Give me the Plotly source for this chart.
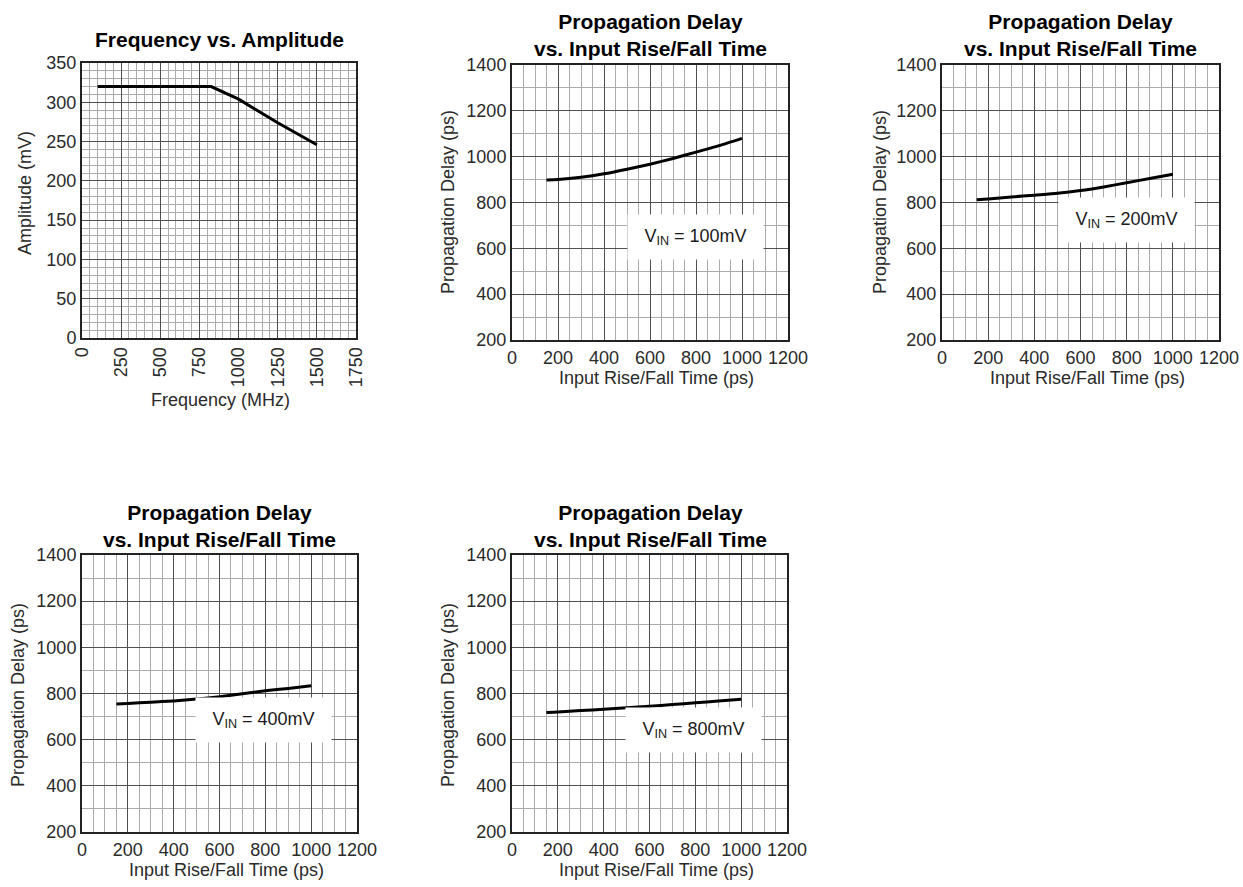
import plotly.graph_objects as go

# ---------------- data ----------------
freq_mhz = [100, 825, 1000, 1250, 1500]
amp_mv = [320, 320, 304, 274, 246]

rise_ps = [150, 200, 300, 400, 500, 600, 700, 800, 900, 1000]
delay_100mv = [898, 900, 910, 925, 945, 967, 992, 1020, 1048, 1080]
delay_200mv = [812, 815, 824, 832, 840, 852, 868, 886, 905, 923]
delay_400mv = [755, 757, 762, 768, 776, 786, 799, 812, 822, 834]
delay_800mv = [718, 720, 726, 732, 738, 745, 752, 760, 767, 775]

vin_labels = ["V<sub>IN</sub> = 100mV", "V<sub>IN</sub> = 200mV",
              "V<sub>IN</sub> = 400mV", "V<sub>IN</sub> = 800mV"]
label_pos = [(796, 650), (801, 724), (790, 685), (790, 642)]

title_freq = "<b>Frequency vs. Amplitude</b>"
title_pd = "<b>Propagation Delay<br>vs. Input Rise/Fall Time</b>"

# ---------------- layout geometry ----------------
W, H = 1243, 887
FONT = "Liberation Sans, Arial, sans-serif"

def px_x(a, b):
    return [a / W, b / W]

def px_y(top, bottom):
    return [1 - bottom / H, 1 - top / H]

panels = [
    dict(x=px_x(82, 356), y=px_y(63, 338)),
    dict(x=px_x(512, 788), y=px_y(65, 340)),
    dict(x=px_x(942, 1219), y=px_y(65, 340)),
    dict(x=px_x(82, 357), y=px_y(555, 832)),
    dict(x=px_x(512, 787), y=px_y(555, 832)),
]

MAJOR = "#505050"
MINOR = "#ababab"
TICKFONT = dict(family=FONT, size=18, color="#2a2a2a")

fig = go.Figure()

series = [(freq_mhz, amp_mv), (rise_ps, delay_100mv), (rise_ps, delay_200mv),
          (rise_ps, delay_400mv), (rise_ps, delay_800mv)]
for i, (xs, ys) in enumerate(series):
    sfx = "" if i == 0 else str(i + 1)
    fig.add_trace(go.Scatter(x=xs, y=ys, mode="lines",
                             line=dict(color="black", width=3, shape="spline" if i else "linear", smoothing=0.6),
                             xaxis="x" + sfx, yaxis="y" + sfx, showlegend=False,
                             hoverinfo="skip"))

layout = dict(width=W, height=H, margin=dict(l=0, r=0, t=0, b=0, autoexpand=False),
              paper_bgcolor="white", plot_bgcolor="white",
              font=dict(family=FONT, color="#2a2a2a"), showlegend=False)

for i, p in enumerate(panels):
    sfx = "" if i == 0 else str(i + 1)
    if i == 0:
        xa = dict(range=[0, 1750], dtick=250, tick0=0, tickangle=-90,
                  minor=dict(dtick=50, showgrid=True, gridcolor=MINOR, gridwidth=1))
        ya = dict(range=[0, 350], dtick=50, tick0=0,
                  minor=dict(dtick=10, showgrid=True, gridcolor=MINOR, gridwidth=1))
    else:
        xa = dict(range=[0, 1200], dtick=200, tick0=0,
                  minor=dict(dtick=50, showgrid=True, gridcolor=MINOR, gridwidth=1))
        ya = dict(range=[200, 1400], dtick=200, tick0=200,
                  minor=dict(dtick=100, showgrid=True, gridcolor=MINOR, gridwidth=1))
    common = dict(showgrid=True, gridcolor=MAJOR, gridwidth=1, zeroline=False,
                  showline=True, linecolor="#222", linewidth=2, mirror=True,
                  ticks="", tickfont=TICKFONT, fixedrange=True, automargin=False)
    xa.update(common, domain=p["x"], anchor="y" + sfx)
    ya.update(common, domain=p["y"], anchor="x" + sfx)
    layout["xaxis" + sfx] = xa
    layout["yaxis" + sfx] = ya

fig.update_layout(**layout)

ann = []
# titles
title_specs = [
    (title_freq, 219, 40),
    (title_pd, 650, 35),
    (title_pd, 1080, 35),
    (title_pd, 219, 526),
    (title_pd, 650, 526),
]
for t, x, y in title_specs:
    ann.append(dict(text=t, x=x / W, y=1 - y / H, xref="paper", yref="paper",
                    showarrow=False, xanchor="center", yanchor="middle",
                    font=dict(family=FONT, size=21, color="black")))

# axis titles
ax_titles = [
    ("Frequency (MHz)", 220, 400, 0),
    ("Amplitude (mV)", 25, 193, -90),
    ("Input Rise/Fall Time (ps)", 656, 378, 0),
    ("Propagation Delay (ps)", 448, 202, -90),
    ("Input Rise/Fall Time (ps)", 1087, 378, 0),
    ("Propagation Delay (ps)", 880, 202, -90),
    ("Input Rise/Fall Time (ps)", 226, 870, 0),
    ("Propagation Delay (ps)", 18, 695, -90),
    ("Input Rise/Fall Time (ps)", 656, 870, 0),
    ("Propagation Delay (ps)", 448, 695, -90),
]
for t, x, y, ang in ax_titles:
    ann.append(dict(text=t, x=x / W, y=1 - y / H, xref="paper", yref="paper",
                    showarrow=False, xanchor="center", yanchor="middle", textangle=ang,
                    font=dict(family=FONT, size=18, color="#2a2a2a")))

# V_IN labels
for i, (lbl, (lx, ly)) in enumerate(zip(vin_labels, label_pos)):
    sfx = str(i + 2)
    ann.append(dict(text=lbl, x=lx, y=ly, xref="x" + sfx, yref="y" + sfx,
                    showarrow=False, xanchor="center", yanchor="middle",
                    bgcolor="white", width=133, height=42,
                    font=dict(family=FONT, size=18, color="#1a1a1a")))

fig.update_layout(annotations=ann)
fig.write_html("out.html")
